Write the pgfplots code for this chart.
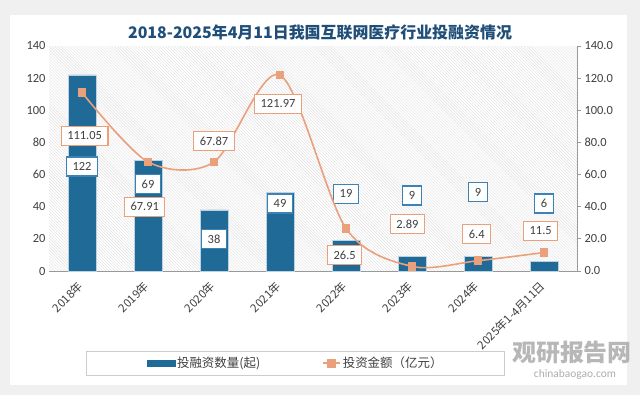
\documentclass[border=0pt]{standalone}
\usepackage{fontspec}
\setmainfont{Carlito}
\newfontfamily\cjk{Noto Sans CJK SC}
\usepackage{pgfplots}
\pgfplotsset{compat=1.18}
\usetikzlibrary{patterns}
\definecolor{barblue}{HTML}{1F6A97}
\definecolor{lineor}{HTML}{EBA07C}
\definecolor{titleblue}{HTML}{1F4E79}
\definecolor{txt}{HTML}{404040}
\definecolor{lblblue}{HTML}{3C82B4}
\begin{document}
\begin{tikzpicture}[x=1bp,y=1bp,
  bl/.style={draw=lblblue, line width=1.2bp, fill=white, text=txt, font=\fontsize{12.5}{13}\selectfont, inner xsep=6bp, inner ysep=0bp, minimum height=19bp},
  ol/.style={draw=lineor, line width=1.2bp, fill=white, text=txt, font=\fontsize{12.5}{13}\selectfont, inner xsep=6bp, inner ysep=0bp, minimum height=19bp}]
\fill[black!6] (0,0) rectangle (640,395);
\fill[white] (10,10) rectangle (627,380);
\coordinate (O) at (49,124);
\node[font=\cjk\bfseries\fontsize{16}{18}\selectfont, text=titleblue] at (320,363) {2018-2025年4月11日我国互联网医疗行业投融资情况};
\begin{axis}[at={(O)}, anchor=south west, scale only axis,
  width=528bp, height=225bp,
  xmin=-0.5, xmax=7.5, ymin=0, ymax=140,
  axis y line*=left, axis x line*=bottom,
  y axis line style={draw=none},
  x axis line style={draw=gray!80, line width=0.8bp, -},
  axis background/.style={pattern=north west lines, pattern color=black!12},
  ytick={0,20,...,140},
  major tick length=0pt,
  yticklabel style={text=txt, font=\fontsize{12.5}{12}\selectfont},
  /pgf/number format/assume math mode=true,
  xtick={0,...,7},
  xticklabels={2018年,2019年,2020年,2021年,2022年,2023年,2024年,2025年1-4月11日},
  xticklabel style={rotate=45, anchor=north east, text=txt, font=\cjk\fontsize{11.5}{11}\selectfont, inner sep=1bp, yshift=-2bp, xshift=-9bp},
  clip=false,
]
\addplot[ybar, bar width=28bp, fill=barblue, draw=white!70!barblue, line width=0.8bp]
  coordinates {(0,122) (1,69) (2,38) (3,49) (4,19) (5,9) (6,9) (7,6)};
\node[bl] at (axis cs:0,65) {122};
\node[bl] at (axis cs:1,54) {69};
\node[bl] at (axis cs:2,20) {38};
\node[bl] at (axis cs:3,42) {49};
\node[bl] at (axis cs:4,48) {19};
\node[bl] at (axis cs:5,47) {9};
\node[bl] at (axis cs:6,49) {9};
\node[bl] at (axis cs:7,42) {6};
\end{axis}
\begin{axis}[at={(O)}, anchor=south west, scale only axis,
  width=528bp, height=225bp,
  xmin=-0.5, xmax=7.5, ymin=0, ymax=140,
  axis y line*=right, axis x line=none,
  y axis line style={draw=gray!80, line width=0.8bp, -},
  ytick={0,20,...,140},
  tick align=outside, major tick length=4bp,
  ytick style={draw=gray!80, line width=0.8bp},
  yticklabel style={text=txt, font=\fontsize{12.5}{12}\selectfont, /pgf/number format/.cd, fixed, fixed zerofill, precision=1},
  /pgf/number format/assume math mode=true,
  clip=false,
  legend style={at={(0.467,-0.41)}, anchor=center, legend columns=2, draw=black!20, fill=white,
    inner xsep=60bp, inner ysep=4bp,
    font=\cjk\fontsize{12.5}{13}\selectfont, text=txt,
    /tikz/every even column/.append style={column sep=60bp}},
]
\addlegendimage{legend image code/.code={\fill[barblue] (0bp,-3bp) rectangle (28bp,3bp);}}
\addlegendentry{投融资数量(起)}
\addplot[lineor, line width=1.6bp, smooth, mark=square*, mark size=3.5bp, mark options={fill=lineor, draw=lineor}]
  coordinates {(0,111.05) (1,67.91) (2,67.87) (3,121.97) (4,26.5) (5,2.89) (6,6.4) (7,11.5)};
\addlegendentry{投资金额（亿元）}
\node[ol] at (axis cs:0.04,84) {111.05};
\node[ol] at (axis cs:0.95,40) {67.91};
\node[ol] at (axis cs:2.0,81) {67.87};
\node[ol] at (axis cs:2.97,104) {121.97};
\node[ol] at (axis cs:3.98,10) {26.5};
\node[ol] at (axis cs:4.93,29) {2.89};
\node[ol] at (axis cs:5.98,23) {6.4};
\node[ol] at (axis cs:6.95,25) {11.5};
\end{axis}
\node[font=\cjk\bfseries\fontsize{24}{24}\selectfont, text=black!35, opacity=0.8] at (572,42) {观研报告网};
\node[font=\fontsize{11.5}{11}\selectfont, text=black!40, opacity=0.8] at (575,20) {chinabaogao.com};
\end{tikzpicture}
\end{document}
